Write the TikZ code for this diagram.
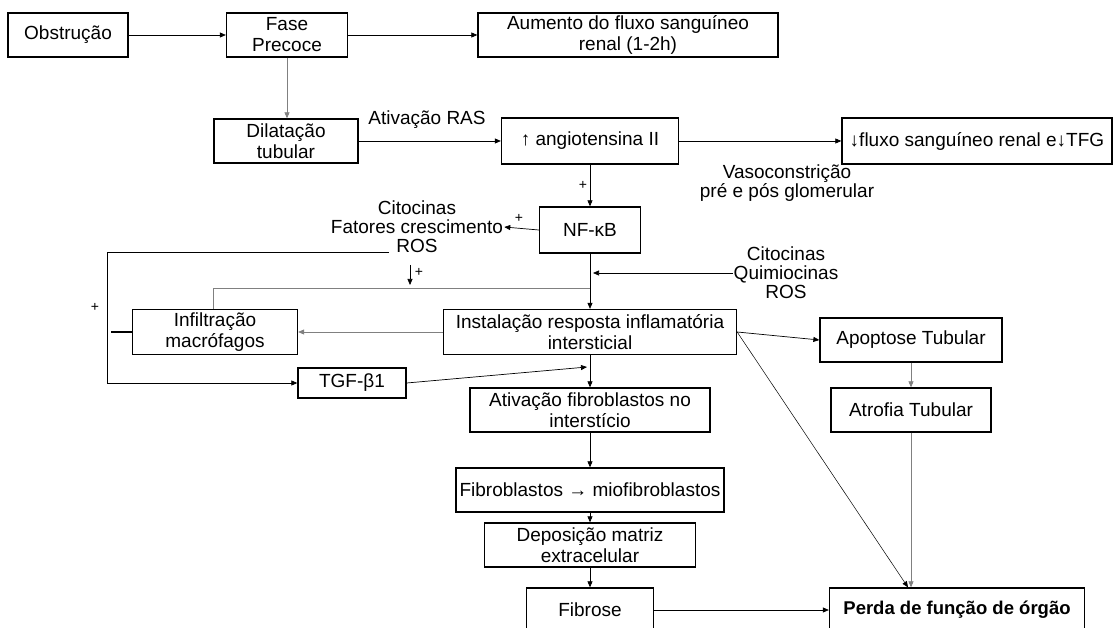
\documentclass[tikz,border=0pt]{standalone}
\usepackage{fontspec}
\setmainfont{Liberation Sans}
\usepackage{tikz}
\usetikzlibrary{shapes,arrows.meta}

\begin{document}
\begin{tikzpicture}[x=1pt,y=-1pt,
  box/.style={draw, line width=1.3pt, minimum height=44pt, inner sep=1pt, align=center, font=\fontsize{19}{21}\selectfont},
  txt/.style={align=center, inner sep=1pt, font=\fontsize{19}{19}\selectfont},
  plus/.style={inner sep=0pt, font=\fontsize{14}{14}\selectfont},
  arr/.style={-{Triangle[length=6pt,width=5pt]}, line width=0.7pt},
  ln/.style={line width=0.7pt}]
\useasboundingbox (0,0) rectangle (1114,628);
\node[box, minimum width=120pt] (obs) at (68,35) {Obstrução};
\node[box, minimum width=121pt] (fase) at (287,35) {Fase\\Precoce};
\node[box, minimum width=300pt] (aum) at (628,35) {Aumento do fluxo sanguíneo\\renal (1-2h)};
\node[box, minimum width=144pt] (dil) at (286,141) {Dilatação\\tubular};
\node[box, minimum width=177pt, minimum height=46pt] (ang) at (590,141) {↑ angiotensina II};
\node[box, minimum width=270pt, minimum height=46pt] (fluxo) at (977,141) {↓fluxo sanguíneo renal e↓TFG};
\node[box, minimum width=101pt, minimum height=46pt] (nfkb) at (590,230) {NF-κB};
\node[box, minimum width=293pt, minimum height=45pt] (inst) at (590,332) {Instalação resposta inflamatória\\intersticial};
\node[box, minimum width=165pt, minimum height=45pt] (infl) at (215,332) {Infiltração\\macrófagos};
\node[box, minimum width=108pt, minimum height=30pt] (tgf) at (352,383) {TGF-β1};
\node[box, minimum width=240pt] (ativ) at (590,410) {Ativação fibroblastos no\\interstício};
\node[box, minimum width=268pt] (fibro) at (590,490) {Fibroblastos → miofibroblastos};
\node[box, minimum width=211pt] (dep) at (590,545) {Deposição matriz\\extracelular};
\node[box, minimum width=127pt] (fibrose) at (590,610) {Fibrose};
\node[box, minimum width=182pt] (apop) at (911,340) {Apoptose Tubular};
\node[box, minimum width=160pt] (atro) at (911,410) {Atrofia Tubular};
\node[box, minimum width=255pt, font=\fontsize{18.5}{21}\selectfont\bfseries] (perda) at (957,610) {Perda de função de órgão};
\node[txt] (cit) at (417,227) {Citocinas\\Fatores crescimento\\ROS};
\node[txt] (quim) at (786,273) {Citocinas\\Quimiocinas\\ROS};
\node[txt] (ras) at (427,120) {Ativação RAS};
\node[txt] (vaso) at (787,183) {Vasoconstrição\\pré e pós glomerular};
\node[plus] (p1) at (583,185) {+};
\node[plus] (p2) at (519,218) {+};
\node[plus] (p3) at (419,272) {+};
\node[plus] (p4) at (95,307) {+};
\coordinate (rosl) at (389,252);
\coordinate (fb) at (107,252);
\coordinate (rosa) at (410,265);
\coordinate (rosb) at (410,285);
\coordinate (j1) at (590,288);
\coordinate (j2) at (587,367);
\draw[arr] (obs) -- (fase);
\draw[arr] (fase) -- (aum);
\draw[arr, gray] (fase.south) -- (fase.south |- dil.north);
\draw[arr] (dil) -- (ang);
\draw[arr] (ang) -- (fluxo);
\draw[arr] (ang) -- (nfkb);
\draw[arr] (nfkb.west) -- (cit.east);
\draw[arr] (rosl) -- (fb) |- (tgf.west);
\draw[line width=1.3pt] (infl.west) -- ++(-21,0);
\draw[arr] (rosa) -- (rosb);
\draw[ln, gray] (infl.north -| 213,0) |- (j1);
\draw[arr] (nfkb) -- (inst);
\draw[arr] (quim.west) -- ([xshift=3pt]quim.west -| inst.north);
\draw[arr, gray] (inst.west) -- (infl.east);
\draw[arr] (inst.east) -- (apop.west);
\draw[ln, -{Triangle[length=6pt,width=5pt]}, line width=0.5pt] (inst.east) -- ([xshift=-49pt]perda.north);
\draw[arr, gray] (apop) -- (atro);
\draw[arr, gray] (atro.south) -- (atro.south |- perda.north);
\draw[arr] (tgf.east) -- (j2);
\draw[arr] (inst) -- (ativ);
\draw[arr] (ativ) -- (fibro);
\draw[arr] (fibro) -- (dep);
\draw[arr] (dep) -- (fibrose);
\draw[arr] (fibrose) -- (perda);
\end{tikzpicture}
\end{document}
